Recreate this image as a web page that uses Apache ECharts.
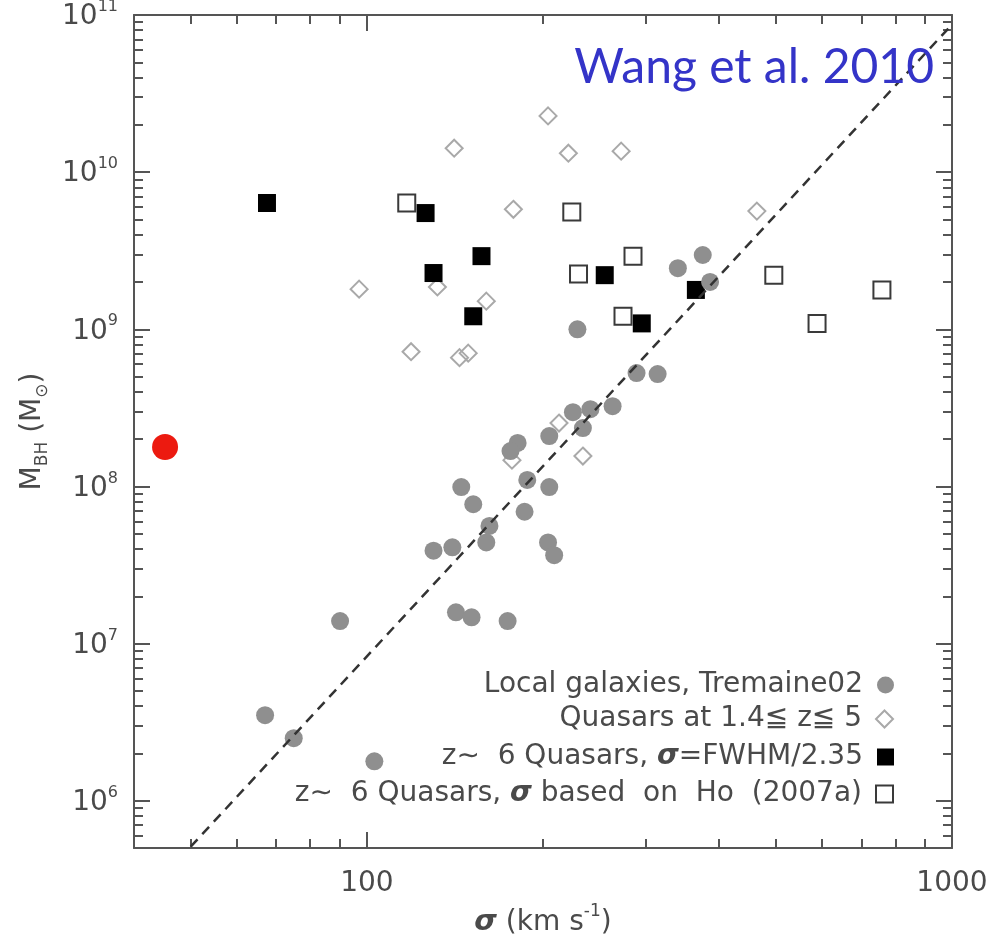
<!DOCTYPE html>
<html><head><meta charset="utf-8">
<script src="https://cdn.jsdelivr.net/npm/echarts@6/dist/echarts.min.js"></script>
<style>html,body{margin:0;padding:0;background:#fff}#c{width:990px;height:936px}</style>
</head><body><div id="c"></div>
<script>
// ---- data: [sigma (km/s), M_BH (Msun)] ----
const localGalaxies = [
  [229,1.0e9],[340,2.45e9],[375,2.97e9],[386,2.0e9],[289,5.26e8],[314,5.19e8],
  [263,3.24e8],[225,2.97e8],[241,3.10e8],[234,2.35e8],[205,2.09e8],[181,1.89e8],
  [176,1.68e8],[188,1.10e8],[205,9.9e7],[145,9.9e7],[152,7.7e7],[186,6.9e7],
  [162,5.6e7],[160,4.4e7],[140,4.1e7],[130,3.9e7],[204,4.4e7],[209,3.65e7],
  [142,1.58e7],[151,1.47e7],[174,1.39e7],[90,1.39e7],[67,3.5e6],[75,2.5e6],[103,1.78e6]
];
const quasarsMidZ = [
  [204,2.28e10],[141,1.42e10],[221,1.32e10],[272,1.36e10],[178,5.8e9],[464,5.65e9],
  [97,1.80e9],[132,1.86e9],[160,1.51e9],[119,7.2e8],[144,6.6e8],[149,7.05e8],
  [213,2.53e8],[234,1.56e8],[177,1.47e8]
];
const z6Fwhm = [
  [67.5,6.36e9],[126,5.49e9],[157,2.92e9],[130,2.28e9],[255,2.21e9],[152,1.21e9],[295,1.09e9],[365,1.78e9]
];
const z6Ho = [
  [117,6.36e9],[224,5.57e9],[230,2.25e9],[285,2.92e9],[274,1.21e9],[496,2.21e9],[759,1.78e9],[588,1.09e9]
];
const redPoint = [[45.2,1.78e8]];
const relationLine = [[50,5.1e5],[1000,8.7e10]];

// ---- ticks ----
const xMajorTicks = [100,1000];
const xMinorTicks = [50,60,70,80,90,200,300,400,500,600,700,800,900];
const yMajorTicks = [1e6,1e7,1e8,1e9,1e10,1e11];
const yMinorTicks = [6e5,7e5,8e5,9e5,
  2e6,3e6,4e6,5e6,6e6,7e6,8e6,9e6,
  2e7,3e7,4e7,5e7,6e7,7e7,8e7,9e7,
  2e8,3e8,4e8,5e8,6e8,7e8,8e8,9e8,
  2e9,3e9,4e9,5e9,6e9,7e9,8e9,9e9,
  2e10,3e10,4e10,5e10,6e10,7e10,8e10,9e10];
const yExponents = {1e6:'6',1e7:'7',1e8:'8',1e9:'9',1e10:'10',1e11:'11'};

const legendNames = ['Local galaxies, Tremaine02','Quasars at 1.4≦ z≦ 5','z~ 6 Quasars, σ=FWHM/2.35','z~ 6 Quasars, σ based on Ho (2007a)'];
const legendRich = [
  '{t|Local galaxies, Tremaine02}',
  '{t|Quasars at 1.4≦ z≦ 5}',
  '{t|z∼  6 Quasars, }{s|σ}{t|=FWHM/2.35}',
  '{t|z∼  6 Quasars, }{s|σ}{t| based  on  Ho  (2007a)}'
];
const legendTops = [671,705,743,780];

const FONT = 'DejaVu Sans';
const AX = '#555';
const TXT = '#4a4a4a';

function xAx(pos, ticks, len, major){
  return {
    type:'log', logBase:10, min:40, max:1000, position:pos,
    axisLine:{show:major, lineStyle:{color:AX,width:2}},
    axisTick:{show:true, inside:true, length:len, customValues:ticks, lineStyle:{color:AX,width:2}},
    axisLabel:{show:false}, splitLine:{show:false}, minorTick:{show:false}, minorSplitLine:{show:false}
  };
}
function yAx(pos, ticks, len, major){
  return {
    type:'log', logBase:10, min:5e5, max:1e11, position:pos,
    axisLine:{show:major, lineStyle:{color:AX,width:2}},
    axisTick:{show:true, inside:true, length:len, customValues:ticks, lineStyle:{color:AX,width:2}},
    axisLabel:{show:false}, splitLine:{show:false}, minorTick:{show:false}, minorSplitLine:{show:false}
  };
}

const xAxes = [xAx('bottom',xMajorTicks,16,true), xAx('bottom',xMinorTicks,9,false), xAx('top',xMajorTicks,16,true), xAx('top',xMinorTicks,9,false)];
xAxes[0].axisLabel = {show:true, customValues:xMajorTicks, margin:22, color:TXT, fontSize:28, fontFamily:FONT, formatter:v=>String(Math.round(v))};
xAxes[0].name = '{s|σ}{n| (km s}{sup|-1}{n|)}';
xAxes[0].nameLocation = 'middle';
xAxes[0].nameGap = 54;
xAxes[0].nameTextStyle = {color:TXT, fontFamily:FONT, rich:{
  n:{fontSize:28, fontFamily:FONT, color:TXT, lineHeight:34, verticalAlign:'bottom'},
  s:{fontSize:29, fontFamily:FONT, color:TXT, fontStyle:'italic', fontWeight:'bold', lineHeight:34, verticalAlign:'bottom'},
  sup:{fontSize:17, fontFamily:FONT, color:TXT, lineHeight:20, verticalAlign:'top'}
}};

const yAxes = [yAx('left',yMajorTicks,16,true), yAx('left',yMinorTicks,9,false), yAx('right',yMajorTicks,16,true), yAx('right',yMinorTicks,9,false)];
yAxes[0].axisLabel = {show:true, customValues:yMajorTicks, margin:16, color:TXT, fontFamily:FONT,
  formatter:v=>{ const k = Object.keys(yExponents).find(e=>Math.abs(Math.log10(+e)-Math.log10(v))<0.01); return '{b|10}{e|'+yExponents[k]+'}'; },
  rich:{
    b:{fontSize:28, fontFamily:FONT, color:TXT, lineHeight:32, verticalAlign:'bottom'},
    e:{fontSize:16, fontFamily:FONT, color:TXT, lineHeight:18, verticalAlign:'top'}
  }};
yAxes[0].name = '{m|M}{sub|BH}{m| (M}{sub|⊙}{m|)}';
yAxes[0].nameLocation = 'middle';
yAxes[0].nameGap = 80;
yAxes[0].nameRotate = 90;
yAxes[0].nameTextStyle = {color:TXT, fontFamily:FONT, rich:{
  m:{fontSize:28, fontFamily:FONT, color:TXT, lineHeight:32, verticalAlign:'top'},
  sub:{fontSize:17, fontFamily:FONT, color:TXT, lineHeight:20, verticalAlign:'bottom'}
}};

const textRich = {
  t:{fontSize:28, fontFamily:FONT, color:TXT, lineHeight:32},
  s:{fontSize:28, fontFamily:FONT, color:TXT, lineHeight:32, fontStyle:'italic', fontWeight:'bold'}
};

const option = {
  animation:false,
  backgroundColor:'#fff',
  title:{text:'Wang et al. 2010', right:51, top:39, textStyle:{fontFamily:'Lato', fontWeight:'normal', fontSize:48, color:'#3434c8'}},
  grid:{left:134, right:38, top:15, bottom:88, outerBoundsMode:'none', containLabel:false},
  xAxis:xAxes,
  yAxis:yAxes,
  legend:legendNames.map((n,i)=>({
    data:[n], right:96, top:legendTops[i], padding:0, orient:'vertical', align:'right',
    itemWidth:17, itemHeight:17, selectedMode:false,
    formatter:()=>legendRich[i],
    textStyle:{fontSize:28, fontFamily:FONT, color:TXT, padding:[0,9,0,0], rich:textRich}
  })),
  series:[
    {name:legendNames[1], type:'scatter', data:quasarsMidZ, symbol:'diamond', symbolSize:17,
      itemStyle:{color:'rgba(255,255,255,0)', borderColor:'#a9a9a9', borderWidth:2, opacity:1}},
    {name:legendNames[3], type:'scatter', data:z6Ho, symbol:'rect', symbolSize:17,
      itemStyle:{color:'rgba(255,255,255,0)', borderColor:'#3a3a3a', borderWidth:2, opacity:1}},
    {name:legendNames[2], type:'scatter', data:z6Fwhm, symbol:'rect', symbolSize:18,
      itemStyle:{color:'#000', opacity:1}},
    {name:legendNames[0], type:'scatter', data:localGalaxies, symbol:'circle', symbolSize:18,
      itemStyle:{color:'#8f8f8f', opacity:1}},
    {name:'red', type:'scatter', data:redPoint, symbol:'circle', symbolSize:26,
      itemStyle:{color:'#ec1a10', opacity:1}},
    {name:'relation', type:'line', data:relationLine, symbol:'none', silent:true,
      lineStyle:{color:'#333', width:2.5, type:[10,7]}}
  ]
};
const chart = echarts.init(document.getElementById('c'), null, {renderer:'canvas'});
chart.setOption(option);
</script>
</body></html>
